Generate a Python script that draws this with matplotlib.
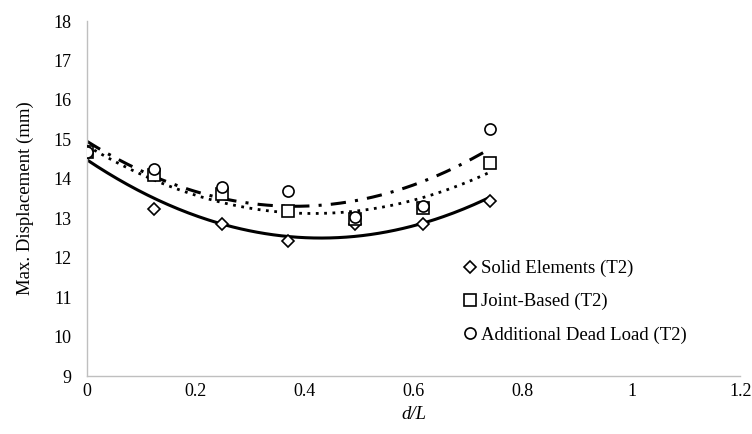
"""Max. displacement vs d/L with quadratic trendlines."""
import numpy as np
from matplotlib import pyplot as plt

d_over_l = [0.0, 0.123, 0.247, 0.370, 0.493, 0.617, 0.740]
solid_elements = [14.67, 13.23, 12.85, 12.42, 12.86, 12.86, 13.44]
joint_based = [14.67, 14.09, 13.62, 13.19, 12.99, 13.27, 14.39]
dead_load = [14.67, 14.24, 13.78, 13.69, 13.02, 13.30, 15.26]

series = [
    ("Solid Elements (T2)", solid_elements, "D", 6, "-", 2.2),
    ("Joint-Based (T2)", joint_based, "s", 8, (0, (1, 2)), 2.0),
    ("Additional Dead Load (T2)", dead_load, "o", 8, (0, (5, 3, 1, 3)), 2.2),
]

plt.rcParams["font.family"] = ["Liberation Serif", "DejaVu Serif"]

fig = plt.figure(figsize=(7.52, 4.34), dpi=100)
ax = fig.add_axes([0.1157, 0.1336, 0.8690, 0.818])

x = np.array(d_over_l)
xs = np.linspace(x.min(), x.max(), 200)
for name, vals, marker, size, ls, lw in series:
    ax.plot(x, vals, linestyle="none", marker=marker, markersize=size,
            markerfacecolor="white", markeredgecolor="black",
            markeredgewidth=1.2, label=name, zorder=3)
    coef = np.polyfit(x, vals, 2)
    ax.plot(xs, np.polyval(coef, xs), color="black", linestyle=ls,
            linewidth=lw, zorder=2)

ax.set_xlim(0, 1.2)
ax.set_ylim(9, 18)
ax.set_xticks([0, 0.2, 0.4, 0.6, 0.8, 1.0, 1.2])
ax.set_xticklabels(["0", "0.2", "0.4", "0.6", "0.8", "1", "1.2"])
ax.set_yticks(range(9, 19))
ax.tick_params(length=0, labelsize=13)
ax.tick_params(axis="y", pad=11)
ax.tick_params(axis="x", pad=5)
for side in ("top", "right"):
    ax.spines[side].set_visible(False)
for side in ("left", "bottom"):
    ax.spines[side].set_color("#bfbfbf")
    ax.spines[side].set_linewidth(1)

ax.set_ylabel("Max. Displacement (mm)", fontsize=13.5, labelpad=14)
ax.set_xlabel("d/L", fontsize=13.5, fontstyle="italic", labelpad=4)

ax.legend(loc="lower left", bbox_to_anchor=(0.566, 0.07), frameon=False,
          fontsize=13.5, handlelength=0.6, handletextpad=0.3,
          labelspacing=0.85, borderaxespad=0)

fig.savefig("out.png", dpi=100)
